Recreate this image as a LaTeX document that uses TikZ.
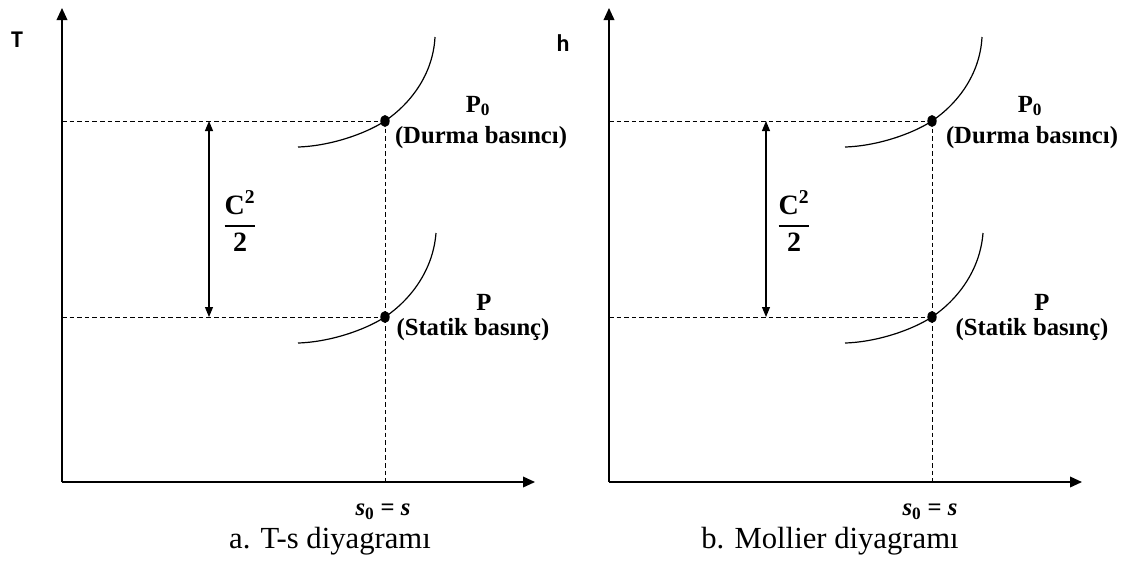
\documentclass[tikz,border=0pt]{standalone}
\usepackage{amsmath}
\usepackage{fontspec}
\setmainfont{Liberation Serif}
\newfontfamily\axisfont{Carlito}
\usetikzlibrary{positioning, calc, arrows.meta, shapes.geometric}

\begin{document}
\begin{tikzpicture}[
        x=0.75pt, y=-0.75pt,
        axisarrow/.style={
            line width=1.1pt,
            -{Triangle[length=9pt, width=8pt]}
        },
        guide/.style={
            dash pattern=on 3.5pt off 2.2pt,
            line width=0.6pt
        },
        isobar/.style={line width=0.9pt},
        statedot/.style={
            ellipse,
            fill,
            inner sep=0pt,
            minimum width=7pt,
            minimum height=9pt
        },
        dropspan/.style={
            line width=0.8pt,
            {Triangle[length=7.5pt, width=6pt]}-{Triangle[length=7.5pt, width=6pt]}
        },
        lbl/.style={font=\bfseries\fontsize{18.5}{20}\selectfont, inner sep=0pt},
        fraclbl/.style={font=\bfseries\fontsize{21}{24}\selectfont, inner sep=0pt},
        axlbl/.style={font=\axisfont\bfseries\fontsize{18}{20}\selectfont, inner sep=0pt},
        capt/.style={font=\fontsize{23}{26}\selectfont, inner sep=0pt}
    ]

        \useasboundingbox (0,0) rectangle (1123,572);

        % ---- a. T-s diagram ----
        % Axes
        \coordinate (Oa) at (62,482);
        \coordinate (Ya) at (62,8);
        \coordinate (Xa) at (535,482);
        \draw[axisarrow] (Oa) -- (Ya);
        \draw[axisarrow] (Oa) -- (Xa);
        \node[axlbl] (Ta) at (17,40) {T};

        % State points
        \node[statedot] (P0a) at (385,121) {};
        \node[statedot] (Pa) at (385,317) {};

        % Dashed guides
        \draw[guide] (Oa |- P0a) -- (P0a.center);
        \draw[guide] (Oa |- Pa) -- (Pa.center);
        \draw[guide] (P0a.center) -- (P0a |- Oa);

        % Pressure curves
        \draw[isobar] (298,147) .. controls (330,146) and (365,134) .. (P0a.center)
            .. controls (410,104) and (433,75) .. (435,37);
        \draw[isobar] (298,343) .. controls (330,342) and (365,330) .. (Pa.center)
            .. controls (410,300) and (433,271) .. (436,233);

        % Kinetic energy span
        \coordinate (Ua) at (209,121);
        \coordinate (La) at (209,317);
        \draw[dropspan] (Ua) -- (La);
        \node[fraclbl] (Ka) at (240,221) {$\dfrac{\textbf{C}^{\textbf{2}}}{\textbf{2}}$};

        % Labels
        \node[lbl] (P0la) at (478,106) {P$_{\mathbf{0}}$};
        \node[lbl] (Dla) at (481,138) {(Durma basıncı)};
        \node[lbl] (Pla) at (484,302) {P};
        \node[lbl] (Sla) at (473,330) {(Statik basınç)};
        \node[lbl] (sa) at (383,512) {\textit{s}$_{\mathbf{0}}$ = \textit{s}};
        \node[capt] (capa) at (330,541) {a. T-s diyagramı};

        % ---- b. Mollier diagram ----
        % Axes
        \coordinate (Ob) at (609,482);
        \coordinate (Yb) at (609,8);
        \coordinate (Xb) at (1082,482);
        \draw[axisarrow] (Ob) -- (Yb);
        \draw[axisarrow] (Ob) -- (Xb);
        \node[axlbl] (hb) at (563,43) {h};

        % State points
        \node[statedot] (P0b) at (932,121) {};
        \node[statedot] (Pb) at (932,317) {};

        % Dashed guides
        \draw[guide] (Ob |- P0b) -- (P0b.center);
        \draw[guide] (Ob |- Pb) -- (Pb.center);
        \draw[guide] (P0b.center) -- (P0b |- Ob);

        % Pressure curves
        \draw[isobar] (845,147) .. controls (877,146) and (912,134) .. (P0b.center)
            .. controls (957,104) and (980,75) .. (982,37);
        \draw[isobar] (845,343) .. controls (877,342) and (912,330) .. (Pb.center)
            .. controls (957,300) and (980,271) .. (983,233);

        % Kinetic energy span
        \coordinate (Ub) at (766,121);
        \coordinate (Lb) at (766,317);
        \draw[dropspan] (Ub) -- (Lb);
        \node[fraclbl] (Kb) at (794,221) {$\dfrac{\textbf{C}^{\textbf{2}}}{\textbf{2}}$};

        % Labels
        \node[lbl] (P0lb) at (1030,106) {P$_{\mathbf{0}}$};
        \node[lbl] (Dlb) at (1032,138) {(Durma basıncı)};
        \node[lbl] (Plb) at (1042,302) {P};
        \node[lbl] (Slb) at (1032,330) {(Statik basınç)};
        \node[lbl] (sb) at (930,512) {\textit{s}$_{\mathbf{0}}$ = \textit{s}};
        \node[capt] (capb) at (830,541) {b. Mollier diyagramı};

    \end{tikzpicture}
\end{document}
